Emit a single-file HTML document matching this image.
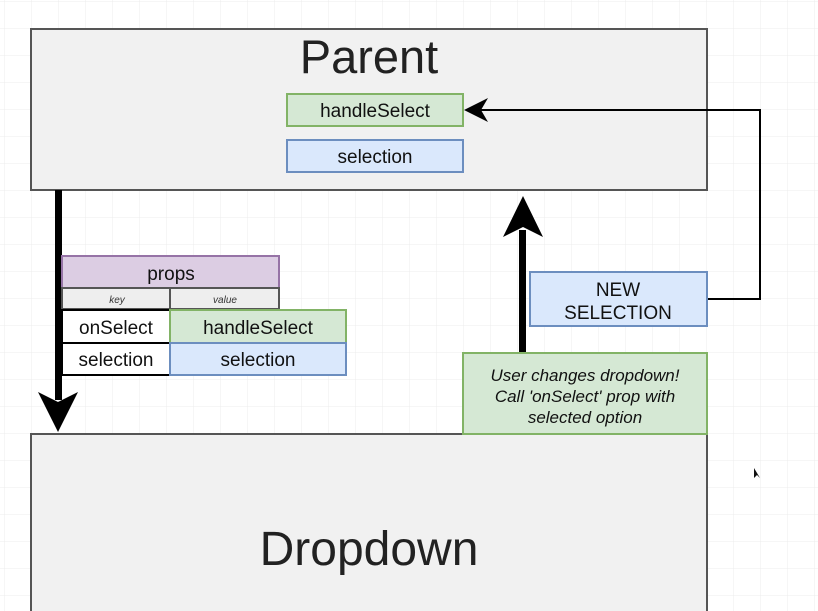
<!DOCTYPE html>
<html><head><meta charset="utf-8"><style>
html,body{margin:0;padding:0;background:#fff;}
svg{display:block;font-family:"Liberation Sans",Arial,sans-serif;}
</style></head><body>
<svg width="818" height="611" viewBox="0 0 818 611" xmlns="http://www.w3.org/2000/svg">
<defs>
<pattern id="g" x="4" y="1" width="27" height="27" patternUnits="userSpaceOnUse">
<path d="M0 0H27M0 0V27" stroke="#ececec" stroke-width="1" fill="none"/>
</pattern>
</defs>
<rect width="818" height="611" fill="#fff"/>
<rect width="818" height="611" fill="url(#g)"/>
<!-- Parent -->
<rect x="31" y="29" width="676" height="161" fill="#f1f1f1" stroke="#555" stroke-width="2"/>
<text x="369" y="73" font-size="47" text-anchor="middle" fill="#222">Parent</text>
<rect x="287" y="94" width="176" height="32" fill="#d5e8d4" stroke="#82b366" stroke-width="2"/>
<text x="375" y="117" font-size="19" text-anchor="middle" fill="#111">handleSelect</text>
<rect x="287" y="140" width="176" height="32" fill="#dae8fc" stroke="#6c8ebf" stroke-width="2"/>
<text x="375" y="163" font-size="19" text-anchor="middle" fill="#111">selection</text>
<!-- Dropdown -->
<rect x="31" y="434" width="676" height="180" fill="#f1f1f1" stroke="#555" stroke-width="2"/>
<text x="369" y="565" font-size="48" text-anchor="middle" fill="#222">Dropdown</text>
<!-- down arrow -->
<rect x="55" y="190" width="7" height="210" fill="#000"/>
<polygon points="38,392 58,402 78,392 58,432" fill="#000"/>
<!-- props -->
<rect x="62" y="256" width="217" height="32" fill="#dccde3" stroke="#9673a6" stroke-width="2"/>
<text x="171" y="280" font-size="19" text-anchor="middle" fill="#111">props</text>
<rect x="62" y="288" width="108" height="21" fill="#eee" stroke="#555" stroke-width="2"/>
<rect x="170" y="288" width="109" height="21" fill="#eee" stroke="#555" stroke-width="2"/>
<text x="117" y="303" font-size="10" font-style="italic" text-anchor="middle" fill="#333">key</text>
<text x="225" y="303" font-size="10" font-style="italic" text-anchor="middle" fill="#333">value</text>
<rect x="62" y="310" width="108" height="33" fill="#fff" stroke="#000" stroke-width="2"/>
<text x="116" y="334" font-size="19" text-anchor="middle" fill="#111">onSelect</text>
<rect x="62" y="343" width="108" height="32" fill="#fff" stroke="#000" stroke-width="2"/>
<text x="116" y="366" font-size="19" text-anchor="middle" fill="#111">selection</text>
<rect x="170" y="310" width="176" height="33" fill="#d5e8d4" stroke="#82b366" stroke-width="2"/>
<text x="258" y="334" font-size="19" text-anchor="middle" fill="#111">handleSelect</text>
<rect x="170" y="343" width="176" height="32" fill="#dae8fc" stroke="#6c8ebf" stroke-width="2"/>
<text x="258" y="366" font-size="19" text-anchor="middle" fill="#111">selection</text>
<!-- up arrow -->
<rect x="519" y="230" width="7" height="124" fill="#000"/>
<polygon points="503,237 523,227 543,237 523,196" fill="#000"/>
<!-- connector -->
<polyline points="707,299 760,299 760,110 470,110" fill="none" stroke="#000" stroke-width="2"/>
<polygon points="464,110 488,98 481,110 488,122" fill="#000"/>
<!-- NEW SELECTION -->
<rect x="530" y="272" width="177" height="54" fill="#dae8fc" stroke="#6c8ebf" stroke-width="2"/>
<text x="618" y="296" font-size="19" text-anchor="middle" fill="#111">NEW</text>
<text x="618" y="319" font-size="19" text-anchor="middle" fill="#111">SELECTION</text>
<!-- note -->
<rect x="463" y="353" width="244" height="81" fill="#d5e8d4" stroke="#82b366" stroke-width="2"/>
<text x="585" y="381" font-size="17" font-style="italic" text-anchor="middle" fill="#111">User changes dropdown!</text>
<text x="585" y="402" font-size="17" font-style="italic" text-anchor="middle" fill="#111">Call 'onSelect' prop with</text>
<text x="585" y="423" font-size="17" font-style="italic" text-anchor="middle" fill="#111">selected option</text>
<!-- cursor -->
<polygon points="754,468 754,478 757,475 760,478" fill="#111"/>
</svg>
</body></html>
